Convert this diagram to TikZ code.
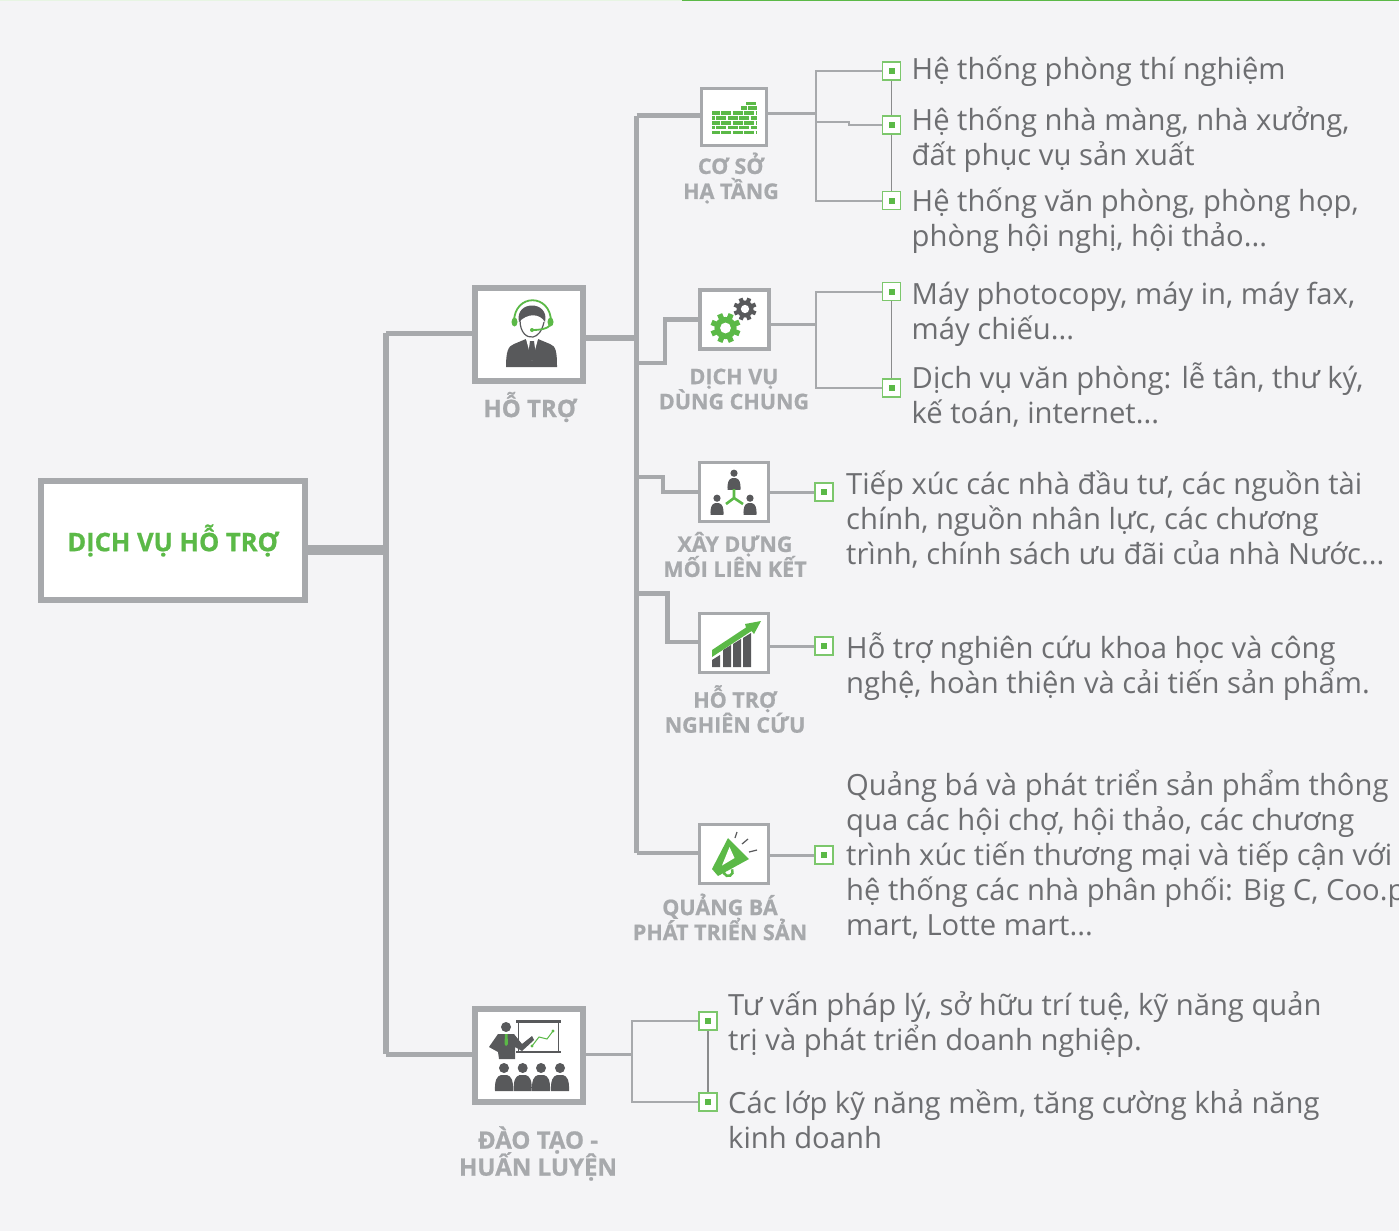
\documentclass[tikz,border=0pt]{standalone}
\usepackage{fontspec}
\setmainfont{Open Sans}
\newfontfamily\capfont[BoldFeatures={FakeBold=0.8}]{Open Sans}
\definecolor{wall}{HTML}{F4F4F6}
\definecolor{rim}{HTML}{A7A9AC}
\definecolor{leaf}{HTML}{5BB947}
\definecolor{ink}{HTML}{58595B}
\definecolor{body}{HTML}{6D6E71}
\tikzset{%
  bigbox/.style={rectangle, draw=rim, fill=white, line width=6pt, inner sep=0pt},
  smallbox/.style={rectangle, draw=rim, fill=white, line width=3.5pt, inner sep=0pt, minimum width=69pt, minimum height=59pt},
  bullet/.style={rectangle, draw=leaf!80, fill=white, line width=1.6pt, inner sep=0pt, minimum size=18pt, path picture={\fill[leaf] (path picture bounding box.center) +(-3,-3) rectangle +(3,3);}},
  caption/.style={text=rim, font=\capfont\bfseries\fontsize{21.5}{25}\selectfont, align=center, inner sep=0pt},
  detail/.style={text=body, font=\fontsize{29.2}{35}\selectfont, align=left, anchor=base west, inner sep=0pt},
  thick link/.style={draw=rim, line width=4.5pt},
  mid link/.style={draw=rim, line width=3pt},
  thin link/.style={draw=rim, line width=2pt},
  riser/.style={draw=ink!70, line width=1.3pt},
  guest/.pic={
    \fill[ink] (0,-15) circle (5);
    \fill[ink] (-9,8) .. controls (-9.5,-3) and (-7,-7) .. (-3,-8) -- (3,-8) .. controls (7,-7) and (9.5,-3) .. (9,8) -- cycle;
  }
}

\begin{document}
\begin{tikzpicture}[x=1pt, y=-1pt]
\lineskiplimit=-100pt
\useasboundingbox (0,0) rectangle (1399,1231);
\fill[wall] (0,0) rectangle (1399,1231);
\draw[leaf!15, line width=2pt] (0,0) -- (682,0);
\draw[leaf, line width=2pt] (682,0) -- (1399,0);

% hop chinh
\node (root) [bigbox, minimum width=264pt, minimum height=119pt, text=leaf, font=\capfont\bfseries\fontsize{25.5}{30}\selectfont] at (173,540.5) {\raisebox{-1pt}{DỊCH VỤ HỖ TRỢ}};
\node (hotro) [bigbox, minimum width=108pt, minimum height=93pt] at (529,334.5) {};
\node (daotao) [bigbox, minimum width=108pt, minimum height=93pt] at (529,1055.5) {};

\node (coso) [smallbox, minimum width=65pt, minimum height=57pt] at (734,117) {};
\node (dichvu) [smallbox] at (734.5,319.5) {};
\node (lienket) [smallbox] at (734,492) {};
\node (nghiencuu) [smallbox] at (734,643) {};
\node (quangba) [smallbox] at (734,854) {};

% cac dau cham
\foreach \name/\i/\j in {a/891.5/71, b/891.5/125, c/891.5/200.5, d/891.5/291.5, e/891.5/388, f/824/492, g/824/646, h/824/855, m/708/1021, n/708/1102} {
  \node (bul\name) [bullet] at (\i,\j) {};
}

% truc chinh
\coordinate (J0) at (386,550);
\coordinate (J1) at (386,333);
\coordinate (J2) at (386,1054);
\draw [draw=rim, line width=10pt] (root.east |- J0) -- (J0);
\draw [draw=rim, line width=6pt] (J1) -- (J2);
\draw [thick link, line width=5pt] (J1) -- (hotro.west |- J1);
\draw [thick link, line width=5pt] (J2) -- (daotao.west |- J2);

\coordinate (T0) at (636.5,338);
\coordinate (T1) at (636.5,115.5);
\coordinate (T2) at (636.5,853);
\draw [thick link, line width=6pt] (hotro.east |- T0) -- (T0);
\draw [thick link] (T1) -- (T2);
\draw [thick link] (T1) -- (coso.west |- T1);
\draw [thick link] (T2) -- (quangba.west |- T2);
\coordinate (S1) at (665,363);
\coordinate (S2) at (665,319.5);
\draw [thick link] (T0 |- S1) -- (S1) -- (S2) -- (dichvu.west |- S2);
\coordinate (S3) at (663,477);
\coordinate (S4) at (663,492);
\draw [thick link] (T0 |- S3) -- (S3) -- (S4) -- (lienket.west |- S4);
\coordinate (S5) at (667.5,593.5);
\coordinate (S6) at (667.5,642);
\draw [thick link] (T0 |- S5) -- (S5) -- (S6) -- (nghiencuu.west |- S6);

% nhanh ben phai
\coordinate (R1) at (816,113.5);
\coordinate (R2) at (816,324.5);
\coordinate (R3) at (632,1054);
\draw [mid link] (coso.east |- R1) -- (R1);
\draw [mid link] (dichvu.east |- R2) -- (R2);
\draw [mid link] (daotao.east |- R3) -- (R3);

\draw [thin link] (bula.west) -- (R1 |- bula) -- (R1 |- bulc) -- (bulc.west);
\coordinate (K1) at (849,121.5);
\coordinate (K2) at (849,125);
\draw [thin link] (R1 |- K1) -- (K1) -- (K2) -- (bulb.west);
\draw [thin link] (buld.west) -- (R2 |- buld) -- (R2 |- bule) -- (bule.west);
\draw [thin link] (bulm.west) -- (R3 |- bulm) -- (R3 |- buln) -- (buln.west);
\draw [mid link] (lienket.east |- bulf) -- (bulf.west);
\draw [mid link] (nghiencuu.east |- bulg) -- (bulg.west);
\draw [mid link] (quangba.east |- bulh) -- (bulh.west);

\draw [riser] (bula.south) -- (bulb.north);
\draw [riser] (bulb.south) -- (bulc.north);
\draw [riser] (buld.south) -- (bule.north);
\draw [riser] (bulm.south) -- (buln.north);

% nhan duoi hop
\node (capa) [caption, font=\capfont\bfseries\fontsize{24}{28}\selectfont] at (530,407) {HỖ TRỢ};
\node (capb) [caption] at (731,178) {CƠ SỞ\\HẠ TẦNG};
\node (capc) [caption] at (734,389) {DỊCH VỤ\\DÙNG CHUNG};
\node (capd) [caption] at (735,554.5) {XÂY DỰNG\\MỐI LIÊN KẾT};
\node (cape) [caption] at (735,709) {HỖ TRỢ\\NGHIÊN CỨU};
\node (capf) [caption] at (720,917) {QUẢNG BÁ\\PHÁT TRIỂN SẢN};
\node (capg) [caption, font=\capfont\bfseries\fontsize{24}{27}\selectfont] at (538,1153.5) {ĐÀO TẠO -\\HUẤN LUYỆN};

% noi dung
\node (txa) [detail] at (911.5,79) {Hệ thống phòng thí nghiệm};
\node (txb) [detail] at (911.5,165) {Hệ thống nhà màng, nhà xưởng,\\đất phục vụ sản xuất};
\node (txc) [detail] at (911.5,246) {Hệ thống văn phòng, phòng họp,\\phòng hội nghị, hội thảo...};
\node (txd) [detail] at (911.5,339) {Máy photocopy, máy in, máy fax,\\máy chiếu...};
\node (txe) [detail] at (911.5,423) {Dịch vụ văn phòng: lễ tân, thư ký,\\kế toán, internet...};
\node (txf) [detail] at (846,564) {Tiếp xúc các nhà đầu tư, các nguồn tài\\chính, nguồn nhân lực, các chương\\trình, chính sách ưu đãi của nhà Nước...};
\node (txg) [detail] at (846,693) {Hỗ trợ nghiên cứu khoa học và công\\nghệ, hoàn thiện và cải tiến sản phẩm.};
\node (txh) [detail] at (846,935) {Quảng bá và phát triển sản phẩm thông\\qua các hội chợ, hội thảo, các chương\\trình xúc tiến thương mại và tiếp cận với\\hệ thống các nhà phân phối: Big C, Coo.p\\mart, Lotte mart...};
\node (txm) [detail] at (728,1050) {Tư vấn pháp lý, sở hữu trí tuệ, kỹ năng quản\\trị và phát triển doanh nghiệp.};
\node (txn) [detail] at (728,1148) {Các lớp kỹ năng mềm, tăng cường khả năng\\kinh doanh};

% tai nghe
\fill [ink] (506,367) .. controls (506,352) and (508,346) .. (514,344) -- (526,339) -- (538,339) -- (550,344) .. controls (556,346) and (557,352) .. (557,367) -- cycle;
\fill [white] (526,339) -- (538,339) -- (532,361) -- cycle;
\fill [ink] (530,341) -- (534,341) -- (536,356) -- (532,361) -- (528,356) -- cycle;
\fill [ink] (519,322) .. controls (514,300) and (550,300) .. (545,322) .. controls (540,313) and (527,313) .. (519,322) -- cycle;
\draw [ink, line width=1.2pt] (520,320) .. controls (520,333) and (527,338) .. (533,337) .. controls (538,336) and (542,331) .. (544,322);
\draw [leaf, line width=1.8pt] (514,322) .. controls (514,293) and (551,293) .. (551,322) .. controls (551,327) and (545,330) .. (532,330);
\fill [leaf] (514.5,322) ellipse (3 and 4.5) (550.5,322) ellipse (3 and 4.5) (532,330) circle (2);

% tuong gach
\foreach \yy/\xx/\ph in {103.5/746/0, 108/741/4, 113/712/2, 118/712/7, 123/712/2, 127.5/712/7, 132.5/712/2} {
  \draw [leaf, line width=3.8pt, dash pattern=on 10pt off 1.4pt, dash phase=\ph pt] (\xx,\yy) -- (757,\yy);
}

% banh rang
\foreach \gx/\gy/\gr/\gc in {725.5/328/15/leaf, 745/309/11.5/ink} {
  \fill [\gc] (\gx,\gy) circle (0.74*\gr);
  \foreach \a in {0,45,...,315} {
    \draw [\gc, line width=0.36*\gr] (\gx,\gy) -- ++(\a+22:\gr);
  }
  \fill [white] (\gx,\gy) circle (0.36*\gr);
}

% nhom ba nguoi
\foreach \i/\j in {734/484, 717/509, 750/509} {
  \pic [scale=0.72] at (\i,\j) {guest};
}
\draw [leaf, line width=2.6pt] (734,489) -- (734,498) -- (726,504) (734,498) -- (743,504);

% bieu do
\foreach \i/\t in {712/659, 723/649, 733/643, 743/637} {
  \fill [ink] (\i,\t+1) -- (\i+8,\t-4) -- (\i+8,667) -- (\i,667) -- cycle;
}
\fill [leaf] (712,650) -- (746,627.5) -- (745,624) -- (761,621) -- (754,634) -- (751.5,631) -- (712,657) -- cycle;

% loa
\fill [leaf] (728,838) -- (749,859) -- (718,876) -- (712,869) -- cycle;
\draw [leaf, line width=2.5pt] (724,870) arc (200:-30:4.5);
\fill [white] (729.5,847) -- (734.5,858) -- (722,865.5) -- cycle;
\draw [ink, line width=1.2pt] (737,832) -- (735,838) (748,839) -- (742,844) (757,850) -- (749,852);

% lop hoc
\draw [ink, line width=2.2pt] (516,1021.5) -- (561,1021.5) (516,1052) -- (561,1052);
\draw [ink, line width=.8pt] (518.5,1021.5) -- (518.5,1052) (558.5,1021.5) -- (558.5,1052);
\draw [leaf, line width=1pt] (532,1046) -- (539,1037) -- (547,1039) -- (553,1031);
\fill [leaf] (532,1046) circle (1.6) (553,1031) circle (1.6);
\fill [ink] (506,1027) circle (5);
\fill [ink] (498,1034) -- (514,1034) -- (522,1044) -- (532,1036) -- (534,1040) -- (522,1051) -- (515,1047) -- (515,1059) -- (499,1059) -- (498,1052) -- (489,1047) -- cycle;
\fill [leaf] (505,1034) -- (507.5,1034) -- (508,1044) -- (506,1046) -- (504.5,1044) -- cycle;
\foreach \i in {504,522.7,541,560} {
  \pic at (\i,1083) {guest};
}
\end{tikzpicture}
\end{document}
